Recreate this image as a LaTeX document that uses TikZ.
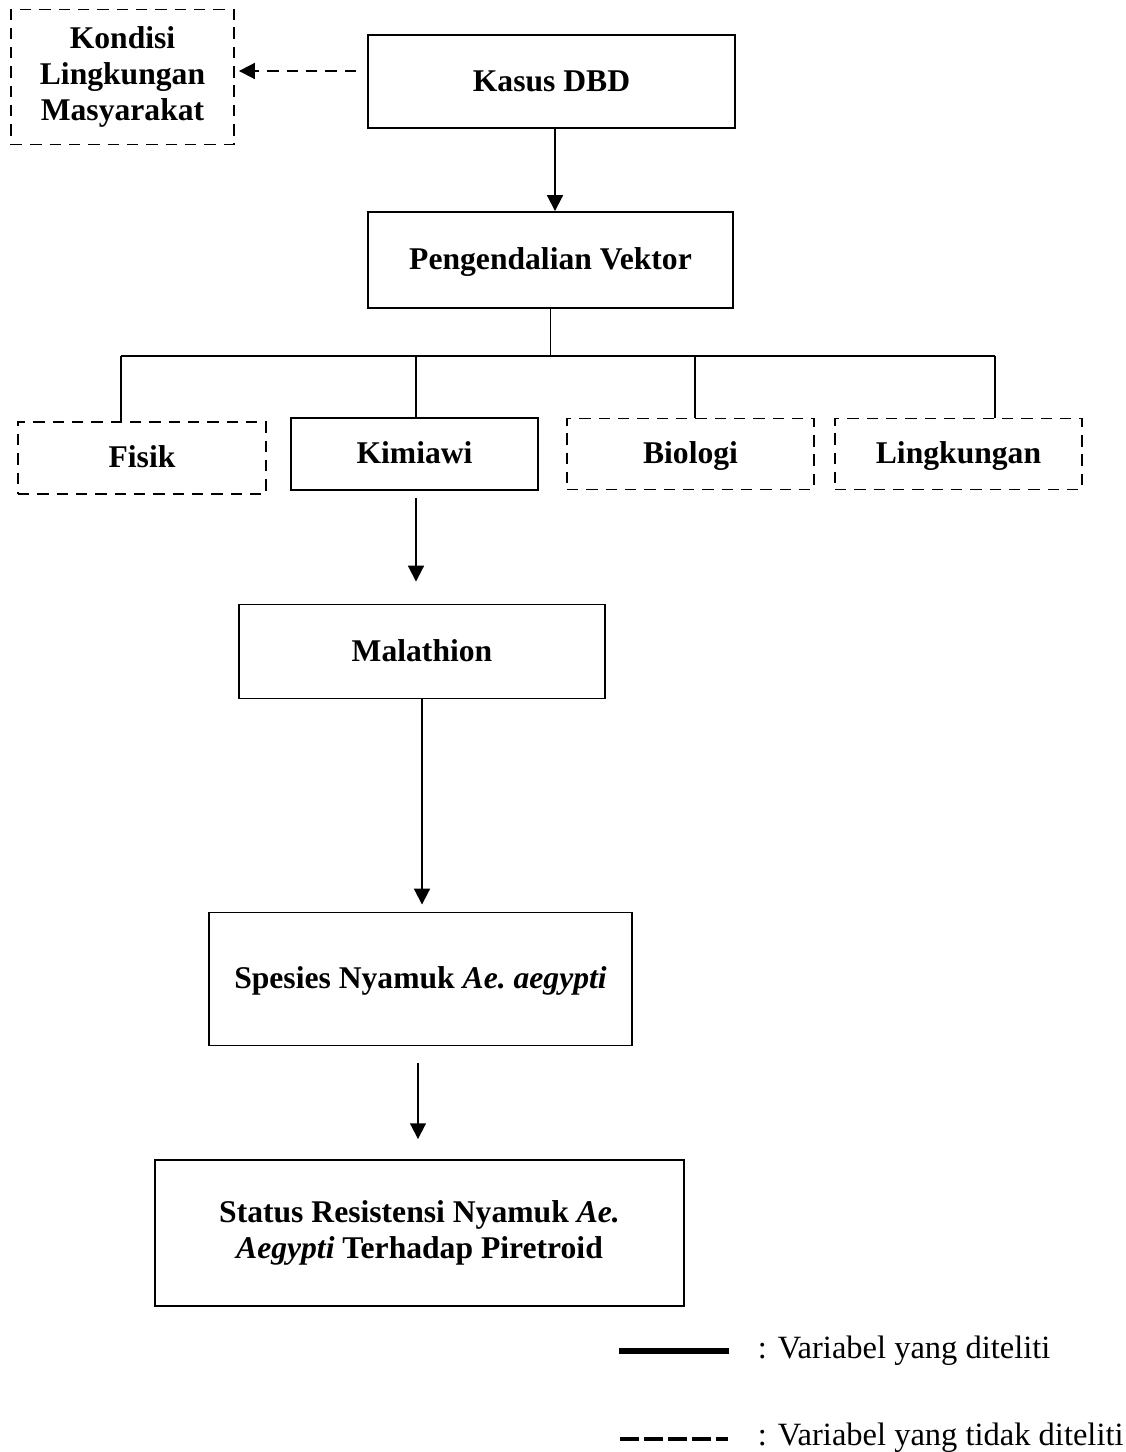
\documentclass[tikz,border=0pt]{standalone}
\usepackage{fontspec}
\setmainfont{Liberation Serif}
\usetikzlibrary{arrows.meta}
\tikzset{
  kotak/.style={draw, line width=1.1pt, inner sep=0pt, align=center, font=\fontsize{18}{20.5}\selectfont\bfseries},
  satu/.style={kotak, text height=15pt, text depth=4pt},
  putus/.style={dash pattern=on 6.5pt off 4.5pt},
  ket/.style={anchor=base west, inner sep=0pt, font=\fontsize{18.5}{20}\selectfont},
}
\begin{document}
\begin{tikzpicture}[x=0.02cm, y=-0.02cm, line width=1.1pt, line join=miter, >={Triangle[width=9pt,length=9pt]}]
\useasboundingbox (0,0) rectangle (1125,1452);
% kotak
\node[kotak,putus,minimum width=4.46cm,minimum height=2.7cm] (kondisi) at (122.5,77) {Kondisi\\Lingkungan\\Masyarakat};
\node[satu,minimum width=7.34cm,minimum height=1.86cm] (kasus) at (551.5,81.5) {Kasus DBD};
\node[satu,minimum width=7.3cm,minimum height=1.92cm] (pengendalian) at (550.5,260) {Pengendalian Vektor};
\node[satu,putus,minimum width=4.96cm,minimum height=1.44cm] (fisik) at (142,458) {Fisik};
\node[satu,minimum width=4.94cm,minimum height=1.44cm] (kimiawi) at (414.5,454) {Kimiawi};
\node[satu,putus,minimum width=4.94cm,minimum height=1.42cm] (biologi) at (690.5,454) {Biologi};
\node[satu,putus,minimum width=4.94cm,minimum height=1.42cm] (lingkungan) at (958.5,454) {Lingkungan};
\node[satu,minimum width=7.32cm,minimum height=1.88cm] (malathion) at (422,651.5) {Malathion};
\node[satu,minimum width=8.46cm,minimum height=2.66cm] (spesies) at (420.5,979) {Spesies Nyamuk \textit{Ae.\ aegypti}};
\node[kotak,minimum width=10.58cm,minimum height=2.92cm] (status) at (419.5,1233) {Status Resistensi Nyamuk \textit{Ae.}\\\textit{Aegypti} Terhadap Piretroid};
% panah
\draw[->,putus,shorten <=0.22cm,shorten >=0.08cm] ([yshift=0.21cm]kasus.west) -- ([yshift=0.21cm]kasus.west -| kondisi.east);
\draw[->] ([xshift=0.07cm]kasus.south) -- ([xshift=0.07cm]kasus.south |- pengendalian.north);
\draw (pengendalian.south) -- ++(0,47) coordinate (cabang);
\draw ([xshift=-0.42cm]fisik.north |- cabang) -- ([xshift=0.73cm]lingkungan.north |- cabang);
\foreach \n/\dx in {fisik/-0.42, kimiawi/0.03, biologi/0.09, lingkungan/0.73}
  \draw ([xshift=\dx cm]\n.north |- cabang) -- ([xshift=\dx cm]\n.north);
\draw[->,shorten <=0.14cm,shorten >=0.44cm] ([xshift=0.03cm]kimiawi.south) -- ([xshift=0.03cm]kimiawi.south |- malathion.north);
\draw[->,shorten >=0.14cm] (malathion.south) -- (malathion.south |- spesies.north);
\draw[->,shorten <=0.34cm,shorten >=0.4cm] ([xshift=-0.05cm]spesies.south) -- ([xshift=-0.05cm]spesies.south |- status.north);
% keterangan
\node[ket] (ket1) at (757,1358) {: Variabel yang diteliti};
\node[ket] (ket2) at (757,1445) {: Variabel yang tidak diteliti};
\draw[line width=3.3pt] ([shift={(-0.56cm,0.14cm)}]ket1.base west) -- ++(-110,0);
\draw[line width=2.8pt,dash pattern=on 10.8pt off 2.8pt] ([shift={(-2.74cm,0.12cm)}]ket2.base west) -- ++(108,0);
\end{tikzpicture}
\end{document}
